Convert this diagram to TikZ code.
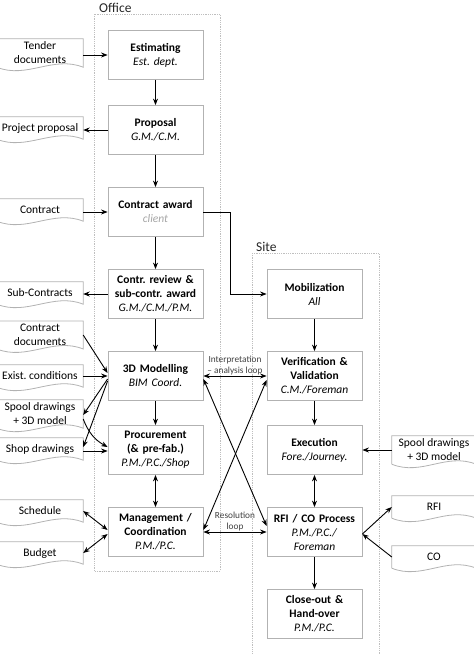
\documentclass[tikz,border=0pt]{standalone}
\usepackage{fontspec}
\setmainfont{Carlito}
\usepackage{tikz}
\usepackage{xcolor}
\usetikzlibrary{arrows.meta}
\frenchspacing
\tikzstyle{task} = [rectangle, draw=gray!60, line width=0.8pt, fill=white, text width=91pt, minimum height=49pt, inner sep=2pt, align=center, font=\fontsize{11.5}{14}\selectfont]
\tikzstyle{doc} = [rectangle, minimum width=86pt, minimum height=22pt, inner xsep=1pt, inner ysep=3pt, align=center, font=\fontsize{11.5}{14}\selectfont]
\tikzstyle{docline} = [draw=gray!60, line width=0.8pt]
\tikzstyle{area} = [draw=gray!50, densely dotted, line width=0.8pt]
\tikzstyle{arealabel} = [anchor=base west, inner sep=0pt, font=\fontsize{13.5}{15}\selectfont, text=black!85]
\tikzstyle{looplabel} = [font=\fontsize{9.3}{11}\selectfont, text=black!75, align=center, inner sep=1pt]
\tikzstyle{arrow} = [line width=0.9pt,->,>={Stealth[length=6.5pt,width=5pt]}]
\tikzstyle{twoway} = [line width=0.9pt,<->,>={Stealth[length=6.5pt,width=5pt]}]

\begin{document}
\begin{tikzpicture}[x=1pt, y=-1pt, node distance=82pt]
\useasboundingbox (0,0) rectangle (474,654);
\clip (0,0) rectangle (474,654);

\draw [area] (94,14) rectangle (220,571);
\draw [area] (252,253) rectangle (379,670);
\node (office) [arealabel] at (99,12) {Office};
\node (site) [arealabel] at (256,251) {Site};

% office
\node (est) [task] at (155.5,55) {\textbf{Estimating}\\\textit{Est. dept.}};
\node (prop) [task, below of=est, yshift=7pt] {\textbf{Proposal}\\\textit{G.M./C.M.}};
\node (award) [task, below of=prop] {\textbf{Contract award}\\\textcolor{gray!70}{\textit{client}}};
\node (review) [task, below of=award] {\textbf{Contr. review \&}\\\textbf{sub-contr. award}\\\textit{G.M./C.M./P.M.}};
\node (model) [task, below of=review] {\textbf{3D Modelling}\\\textit{BIM Coord.}};
\node (proc) [task, below of=model, yshift=8pt] {\textbf{Procurement}\\\textbf{(\& pre-fab.)}\\\textit{P.M./P.C./Shop}};
\node (mgmt) [task, below of=proc] {\textbf{Management /}\\\textbf{Coordination}\\\textit{P.M./P.C.}};

% site
\node (mob) [task] at (314.5,294) {\textbf{Mobilization}\\\textit{All}};
\node (verif) [task, below of=mob] {\textbf{Verification \&}\\\textbf{Validation}\\\textit{C.M./Foreman}};
\node (exec) [task, below of=verif, yshift=8pt] {\textbf{Execution}\\\textit{Fore./Journey.}};
\node (rfi) [task, below of=exec] {\textbf{RFI / CO Process}\\\textit{P.M./P.C./}\\\textit{Foreman}};
\node (close) [task, below of=rfi] {\textbf{Close-out \&}\\\textbf{Hand-over}\\\textit{P.M./P.C.}};

% documents
\node (tender) [doc] at (40,53) {Tender\\documents};
\node (pprop) [doc] at (40,128) {Project proposal};
\node (contr) [doc] at (40,210) {Contract};
\node (subc) [doc] at (40,293) {Sub-Contracts};
\node (cdocs) [doc] at (40,335) {Contract\\documents};
\node (exist) [doc] at (40,376) {Exist. conditions};
\node (spool) [doc] at (40,414) {Spool drawings\\+ 3D model};
\node (shop) [doc] at (40,449) {Shop drawings};
\node (sched) [doc] at (40,511) {Schedule};
\node (budget) [doc] at (40,553) {Budget};
\node (spoolb) [doc, minimum width=84pt] at (434,450) {Spool drawings\\+ 3D model};
\node (rfidoc) [doc, minimum width=84pt] at (434,507) {RFI};
\node (codoc) [doc, minimum width=84pt] at (434,557) {CO};

\foreach \d in {tender,pprop,contr,subc,cdocs,exist,spool,shop,sched,budget,spoolb,rfidoc,codoc}
  \draw [docline] (\d.south west) -- (\d.north west) -- (\d.north east) -- (\d.south east) .. controls +(-30,-12) and +(30,12) .. (\d.south west);

\draw [arrow] (tender.east |- est) -- (est);
\draw [arrow] (est) -- (prop);
\draw [arrow] (prop) -- (pprop.east |- prop);
\draw [arrow] (prop) -- (award);
\draw [arrow] (contr.east |- award) -- (award);
\draw [arrow] (award) -- (review);
\draw [arrow] (award.east) -- ++(27,0) |- (mob.west);
\draw [arrow] (review) -- (subc.east |- review);
\draw [arrow] (review) -- (model);
\draw [arrow] (cdocs.east) -- ([yshift=3pt]model.west);
\draw [arrow] (exist.east |- model) -- (model);
\draw [arrow] ([yshift=-3pt]model.west) -- ([yshift=-1pt]spool.east);
\draw [arrow] ([yshift=-5pt]model.west) -- ([yshift=2pt]shop.east);
\draw [arrow] ([yshift=-5pt]spool.east) to [bend right=20] ([yshift=3pt]proc.west);
\draw [arrow] ([yshift=-2pt]shop.east) -- ([yshift=-1pt]proc.west);
\draw [arrow] (model) -- (proc);
\draw [twoway] (proc) -- (mgmt);
\draw [twoway] (sched.east) -- ([yshift=2pt]mgmt.west);
\draw [twoway] (budget.east) -- ([yshift=-2pt]mgmt.west);

\draw [twoway] (model.east) -- (model.east -| verif.west) node [midway, above, looplabel] {Interpretation\\– analysis loop};
\draw [twoway] ([yshift=-3pt]model.east) -- ([yshift=6pt]rfi.west);
\draw [twoway] ([yshift=2pt]mgmt.east) -- ([yshift=-4pt]verif.west);
\draw [twoway] (mgmt.east) -- (mgmt.east -| rfi.west) node [midway, above, looplabel] {Resolution\\loop};

\draw [arrow] (mob) -- (verif);
\draw [arrow] (verif) -- (exec);
\draw [arrow] (spoolb.west |- exec) -- (exec);
\draw [twoway] (exec) -- (rfi);
\draw [arrow] ([yshift=-2pt]rfi.east) -- (rfidoc.west);
\draw [arrow] (codoc.west) -- ([yshift=-2pt]rfi.east);
\draw [arrow] (rfi) -- (close);
\end{tikzpicture}
\end{document}
